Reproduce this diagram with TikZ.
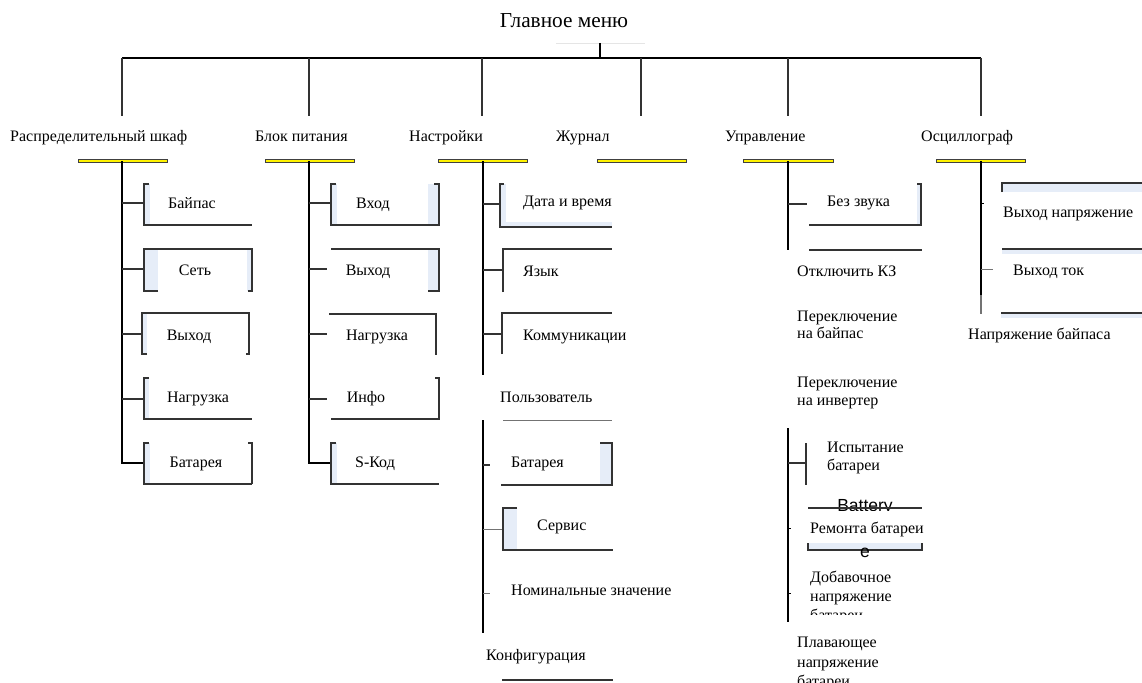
\documentclass[tikz,border=0pt]{standalone}
\usepackage{fontspec}
\setmainfont{Liberation Serif}
\newfontfamily\arialf{Liberation Sans}
\definecolor{lb}{HTML}{E6EDF8}
\definecolor{yl}{HTML}{FFF200}
\tikzset{
  trunk/.style={line width=1.4pt, black},
  bx/.style={line width=1.3pt, draw=black!80},
  lite/.style={line width=1pt, draw=black!55},
  strip/.style={fill=lb, draw=none},
  ybar/.style={fill=yl, draw=black!75, line width=0.6pt},
  lbl/.style={inner sep=0pt, anchor=base west, font=\fontsize{16}{19}\selectfont},
  clbl/.style={inner sep=0pt, anchor=base, font=\fontsize{16}{19}\selectfont},
  ttl/.style={inner sep=0pt, anchor=base, font=\fontsize{21.3}{25}\selectfont},
  sans/.style={inner sep=0pt, anchor=base, font=\arialf\fontsize{17.5}{20}\selectfont}
}
\begin{document}
\begin{tikzpicture}[x=1pt,y=-1pt]
\useasboundingbox (0,0) rectangle (1142,682);
\fill[white] (0,0) rectangle (1142,682);

% ---------- title and bus ----------
\node[ttl] (root) at (564,28) {Главное меню};
\draw[line width=0.8pt, black!10] (556,43) -- (645,43);
\draw[trunk] (600,43) -- (600,58);
\draw[trunk] (122,58) -- (981,58);
\foreach \x in {122,309,482,641,788,981} \draw[line width=1.2pt, black!80] (\x,58) -- (\x,116);

% ---------- top level labels ----------
\node[lbl] (m1) at (10,142) {Распределительный шкаф};
\node[lbl] (m2) at (255,142) {Блок питания};
\node[lbl] (m3) at (409,142) {Настройки};
\node[lbl] (m4) at (556,142) {Журнал};
\node[lbl] (m5) at (725,142) {Управление};
\node[lbl] (m6) at (921,142) {Осциллограф};

% yellow bars
\foreach \a/\b in {78/167,265/354,438/527,597/686,743/833,936/1025}
  \draw[ybar] (\a,159.5) rectangle (\b,162.5);

% ---------- column 1 ----------
\fill[strip] (144,184) rectangle (150,225);
\fill[strip] (144,249) rectangle (158,291);
\fill[strip] (247,249) rectangle (252,291);
\fill[strip] (142,313) rectangle (147,354);
\fill[strip] (144,378) rectangle (149,419);
\fill[strip] (144,443) rectangle (150,484);
\draw[trunk] (122,161) -- (122,463) -- (144,463);
\draw[bx] (122,203) -- (144,203);
\draw[bx] (122,269) -- (144,269);
\draw[bx] (122,334) -- (142,334);
\draw[bx] (122,399) -- (144,399);
\draw[bx] (149,184) -- (144,184) -- (144,225) -- (252,225);
\draw[bx] (158,291) -- (144,291) -- (144,249) -- (252,249) -- (252,291) -- (248,291);
\draw[bx] (147,354) -- (142,354) -- (142,313) -- (249,313) -- (249,354) -- (246,354);
\draw[bx] (149,378) -- (144,378) -- (144,419) -- (252,419);
\draw[bx] (149,443) -- (144,443) -- (144,484) -- (252,484);
\draw[bx] (248,443) -- (252,443) -- (252,484);
\node[clbl] (a1) at (192,208) {Байпас};
\node[clbl] (a2) at (195,275) {Сеть};
\node[clbl] (a3) at (189,340) {Выход};
\node[clbl] (a4) at (198,402) {Нагрузка};
\node[clbl] (a5) at (196,467) {Батарея};

% ---------- column 2 ----------
\fill[strip] (331,184) rectangle (337,225);
\fill[strip] (428,184) rectangle (439,225);
\fill[strip] (428,249) rectangle (439,291);
\fill[strip] (331,443) rectangle (337,484);
\draw[trunk] (309,161) -- (309,463) -- (331,463);
\draw[bx] (309,203) -- (331,203);
\draw[bx] (309,269) -- (327,269);
\draw[bx] (309,334) -- (327,334);
\draw[bx] (309,399) -- (327,399);
\draw[bx] (336,184) -- (331,184) -- (331,225) -- (439,225) -- (439,184) -- (434,184);
\draw[bx] (331,249) -- (439,249) -- (439,291) -- (428,291);
\draw[bx] (329,314) -- (436,314) -- (436,355);
\draw[bx] (435,378) -- (439,378) -- (439,419) -- (331,419);
\draw[bx] (336,443) -- (331,443) -- (331,484) -- (439,484);
\node[clbl] (b1) at (373,208) {Вход};
\node[clbl] (b2) at (368,275) {Выход};
\node[clbl] (b3) at (377,340) {Нагрузка};
\node[clbl] (b4) at (366,402) {Инфо};
\node[clbl] (b5) at (375,467) {S-Код};

% ---------- column 3 ----------
\fill[strip] (500,184) rectangle (506,227);
\fill[strip] (500,222) rectangle (612,227);
\fill[strip] (600,443) rectangle (612,485);
\fill[strip] (503,508) rectangle (517,550);
\draw[trunk] (483,161) -- (483,375);
\draw[trunk] (483,420) -- (483,633);
\draw[bx] (483,204) -- (500,204);
\draw[bx] (483,270) -- (503,270);
\draw[bx] (483,334) -- (502,334);
\draw[bx] (483,465) -- (490,465);
\draw[lite] (483,529) -- (503,529);
\draw[lite] (483,593) -- (490,593);
\draw[bx] (504,184) -- (500,184) -- (500,227) -- (612,227);
\draw[bx] (503,292) -- (503,249) -- (612,249);
\draw[bx] (502,354) -- (502,313) -- (612,313);
\draw[lite] (503,420) -- (612,420);
\draw[bx] (600,443) -- (612,443) -- (612,485) -- (501,485);
\draw[bx] (517,508) -- (503,508) -- (503,550) -- (613,550);
\draw[bx] (502,680) -- (613,680);
\node[lbl] (c1) at (523,206) {Дата и время};
\node[lbl] (c2) at (523,276) {Язык};
\node[lbl] (c3) at (523,340) {Коммуникации};
\node[lbl] (c4) at (500,402) {Пользователь};
\node[lbl] (c5) at (511,467) {Батарея};
\node[lbl] (c6) at (537,530) {Сервис};
\node[lbl] (c7) at (511,595) {Номинальные значение};
\node[lbl] (c8) at (486,660) {Конфигурация};

% ---------- column 5 ----------
\fill[strip] (917,184) rectangle (921,225);
\draw[line width=1.8pt] (788,161) -- (788,250);
\draw[bx] (788,204) -- (807,204);
\draw[bx] (917,184) -- (921,184) -- (921,225) -- (809,225);
\draw[bx] (809,250) -- (922,250);
\node[lbl] (e1) at (827,206) {Без звука};
\node[lbl] (e2) at (797,276) {Отключить КЗ};
\node[lbl] (e3a) at (797,321) {Переключение};
\node[lbl] (e3b) at (797,338) {на байпас};
\node[lbl] (e4a) at (797,387) {Переключение};
\node[lbl] (e4b) at (797,405) {на инвертер};
\draw[trunk] (788,428) -- (788,622);
\draw[bx] (788,463) -- (806,463);
\draw[bx] (806,443) -- (806,485);
\node[lbl] (e5a) at (827,452) {Испытание};
\node[lbl] (e5b) at (827,470) {батареи};
% Battery / Ремонта батареи overlap
\node[sans] (bat1) at (865,511) {Battery};
\fill[white] (809,511) rectangle (921,543);
\fill[strip] (808,543) rectangle (922,550);
\draw[bx] (808,508) -- (922,508);
\draw[bx] (808,543) -- (808,550) -- (922,550) -- (922,543);
\node[sans] (bat2) at (865,557) {e};
\draw[line width=0.8pt] (788,528) -- (791,528);
\draw[line width=0.8pt] (788,593) -- (791,593);
\node[lbl] (e6) at (810,533) {Ремонта батареи};
\begin{scope}
  \clip (800,560) rectangle (960,614);
  \node[lbl] (e7a) at (810,582) {Добавочное};
  \node[lbl] (e7b) at (810,601) {напряжение};
  \node[lbl] (e7c) at (810,620) {батареи};
\end{scope}
\begin{scope}
  \clip (790,625) rectangle (960,682);
  \node[lbl] (e8a) at (797,647) {Плавающее};
  \node[lbl] (e8b) at (797,667) {напряжение};
  \node[lbl] (e8c) at (797,686) {батареи};
\end{scope}

% ---------- column 6 ----------
\fill[strip] (1002,183) rectangle (1142,192);
\fill[strip] (1002,249) rectangle (1142,254);
\fill[strip] (1001,313) rectangle (1142,318);
\draw[trunk] (981,161) -- (981,295);
\draw[line width=1.2pt, black!55] (981,295) -- (981,314);
\draw[line width=0.8pt] (981,203) -- (984,203);
\draw[lite] (981,269) -- (993,269);
\draw[bx] (1002,192) -- (1002,183) -- (1142,183);
\draw[bx] (1002,249) -- (1142,249);
\draw[bx] (1001,313) -- (1142,313);
\node[lbl] (f1) at (1003,217) {Выход напряжение};
\node[lbl] (f2) at (1013,275) {Выход ток};
\node[lbl] (f3) at (968,339) {Напряжение байпаса};
\end{tikzpicture}
\end{document}
